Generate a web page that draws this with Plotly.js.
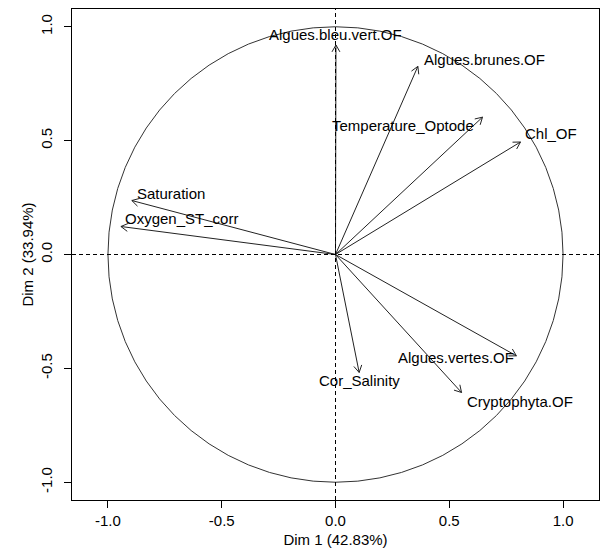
<!DOCTYPE html>
<html>
<head>
<meta charset="utf-8">
<script src="https://cdn.plot.ly/plotly-3.0.1.min.js"></script>
<style>html,body{margin:0;padding:0;background:#fff;}#chart{width:604px;height:551px;}</style>
</head>
<body>
<div id="chart"></div>
<script>
// Variables (PCA correlation circle)
const variables = ["Algues.bleu.vert.OF","Algues.brunes.OF","Temperature_Optode","Chl_OF","Saturation","Oxygen_ST_corr","Algues.vertes.OF","Cor_Salinity","Cryptophyta.OF"];
const dim1 = [0.002, 0.362, 0.646, 0.813, -0.895, -0.943, 0.795, 0.104, 0.554];
const dim2 = [0.920, 0.826, 0.603, 0.494, 0.237, 0.123, -0.445, -0.518, -0.606];
// label anchor positions (left edge, vertical middle) in data units
const labelX = [-0.301, 0.378, -0.024, 0.822, -0.883, -0.932, 0.266, -0.083, 0.568];
const labelY = [0.965, 0.855, 0.565, 0.530, 0.269, 0.157, -0.452, -0.555, -0.645];
const xTicks = [-1.0, -0.5, 0.0, 0.5, 1.0];
const yTicks = [-1.0, -0.5, 0.0, 0.5, 1.0];
const xTitle = "Dim 1 (42.83%)";
const yTitle = "Dim 2 (33.94%)";

const FONT = "Liberation Sans, Arial, sans-serif";
const headLen = 0.035, headAng = Math.PI / 6;

const sx = [], sy = [];
for (let i = 0; i < variables.length; i++) {
  const x = dim1[i], y = dim2[i];
  sx.push(0, x, null); sy.push(0, y, null);
  const th = Math.atan2(y, x);
  sx.push(x - headLen * Math.cos(th + headAng), x, x - headLen * Math.cos(th - headAng), null);
  sy.push(y - headLen * Math.sin(th + headAng), y, y - headLen * Math.sin(th - headAng), null);
}

const traces = [{
  x: sx, y: sy, mode: "lines", type: "scatter",
  line: {color: "#222", width: 1}, hoverinfo: "skip", showlegend: false
}];

const annotations = variables.map((v, i) => ({
  x: labelX[i], y: labelY[i], xref: "x", yref: "y", text: v, showarrow: false,
  xanchor: "left", yanchor: "middle", font: {family: FONT, size: 15, color: "#000"}
}));

const tickFmt = t => t.toFixed(1);

const layout = {
  width: 604, height: 551,
  margin: {l: 72, r: 5, t: 9, b: 51},
  paper_bgcolor: "#fff", plot_bgcolor: "#fff",
  font: {family: FONT, size: 15, color: "#000"},
  showlegend: false,
  xaxis: {
    range: [-1.158, 1.158], tickvals: xTicks, ticktext: xTicks.map(tickFmt),
    ticks: "outside", ticklen: 7, tickcolor: "#000", tickwidth: 1,
    showline: true, linecolor: "#000", linewidth: 1, mirror: true,
    showgrid: false, zeroline: false,
    tickfont: {family: FONT, size: 15},
    title: {text: xTitle, font: {family: FONT, size: 15}, standoff: 6}
  },
  yaxis: {
    range: [-1.078, 1.078], tickvals: yTicks, ticktext: yTicks.map(tickFmt),
    ticks: "outside", ticklen: 7, tickcolor: "#000", tickwidth: 1,
    showline: true, linecolor: "#000", linewidth: 1, mirror: true,
    showgrid: false, zeroline: false, tickangle: -90, ticklabelstandoff: 6,
    tickfont: {family: FONT, size: 15},
    title: {text: yTitle, font: {family: FONT, size: 15}, standoff: 0}
  },
  shapes: [
    {type: "circle", xref: "x", yref: "y", x0: -1, y0: -1, x1: 1, y1: 1, line: {color: "#333", width: 1}},
    {type: "line", xref: "paper", yref: "y", x0: 0, x1: 1, y0: 0, y1: 0, line: {color: "#000", width: 1, dash: "4px,3px"}},
    {type: "line", xref: "x", yref: "paper", x0: 0, x1: 0, y0: 0, y1: 1, line: {color: "#000", width: 1, dash: "4px,3px"}}
  ],
  annotations: annotations
};

Plotly.newPlot("chart", traces, layout, {displayModeBar: false, staticPlot: true});
</script>
</body>
</html>
